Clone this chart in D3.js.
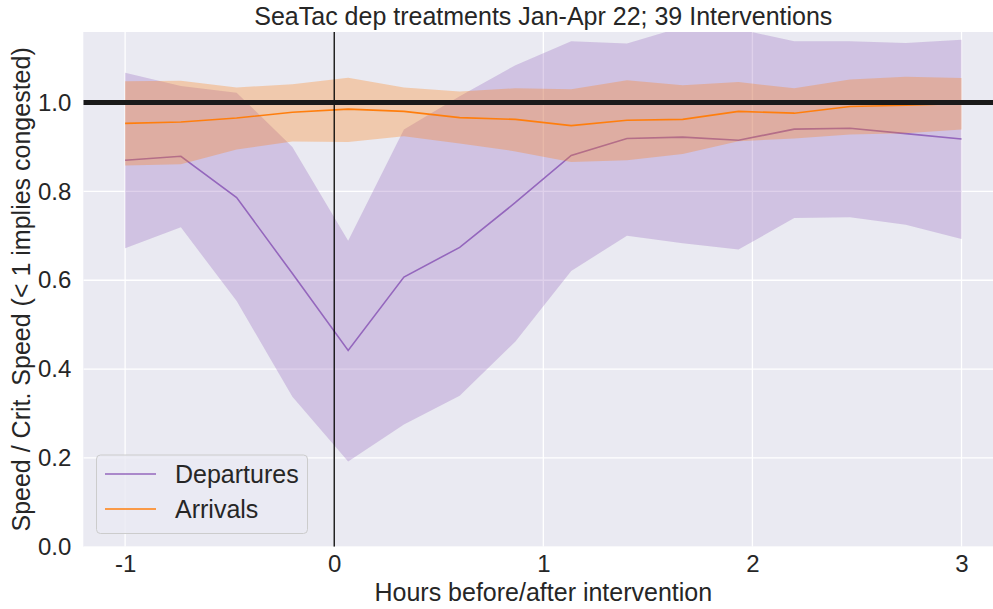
<!DOCTYPE html>
<html>
<head>
<meta charset="utf-8">
<script src="https://cdn.jsdelivr.net/npm/d3@7"></script>
<style>
  html, body { margin: 0; padding: 0; background: #ffffff; }
  svg { display: block; font-family: "Liberation Sans", Arial, sans-serif; }
</style>
</head>
<body>
<svg id="chart" width="993" height="609"></svg>
<script>
// ---- data ----
const minutes = [-60, -44, -28, -12, 4, 20, 36, 52, 68, 84, 100, 116, 132, 148, 164, 180];
const depMean  = [0.870, 0.879, 0.786, 0.615, 0.442, 0.607, 0.674, 0.775, 0.881, 0.919, 0.922, 0.915, 0.940, 0.942, 0.930, 0.918];
const depUpper = [1.067, 1.037, 1.022, 0.900, 0.689, 0.939, 1.014, 1.084, 1.138, 1.133, 1.170, 1.165, 1.138, 1.138, 1.134, 1.141];
const depLower = [0.672, 0.719, 0.553, 0.338, 0.192, 0.275, 0.340, 0.462, 0.621, 0.700, 0.683, 0.669, 0.740, 0.742, 0.725, 0.693];
const arrMean  = [0.953, 0.956, 0.965, 0.978, 0.985, 0.980, 0.966, 0.962, 0.948, 0.960, 0.962, 0.980, 0.976, 0.991, 0.994, 0.998];
const arrUpper = [1.048, 1.049, 1.034, 1.041, 1.056, 1.034, 1.025, 1.032, 1.030, 1.050, 1.039, 1.046, 1.032, 1.052, 1.058, 1.055];
const arrLower = [0.858, 0.861, 0.894, 0.912, 0.911, 0.924, 0.908, 0.890, 0.866, 0.870, 0.884, 0.913, 0.919, 0.928, 0.931, 0.939];
const xTicks = [-1, 0, 1, 2, 3];
const xTickLabels = ["-1", "0", "1", "2", "3"];
const yTicks = [0.0, 0.2, 0.4, 0.6, 0.8, 1.0];
const yTickLabels = ["0.0", "0.2", "0.4", "0.6", "0.8", "1.0"];
const seriesNames = ["Departures", "Arrivals"];
const titleText = "SeaTac dep treatments Jan-Apr 22; 39 Interventions";
const xLabelText = "Hours before/after intervention";
const yLabelText = "Speed / Crit. Speed (< 1 implies congested)";
const refLine = 1.0;
const vLine = 0;

// ---- layout ----
const svg = d3.select("#chart");
const pLeft = 83.3, pTop = 32, pBottom = 546.8, pRight = 993;
const x = d3.scaleLinear().domain([-1.2, 3.2]).range([pLeft, pLeft + 4.4 * 209.1]);
const y = d3.scaleLinear().domain([0, 1.1587]).range([pBottom, pTop]);

const textColor = "#262626";
const purple = "#9467bd", orange = "#ff7f0e";
const fontFam = "Liberation Sans, Arial, sans-serif";

svg.append("defs").append("clipPath").attr("id", "clip")
  .append("rect").attr("x", pLeft).attr("y", pTop).attr("width", pRight - pLeft).attr("height", pBottom - pTop);

// background
svg.append("rect").attr("x", pLeft).attr("y", pTop).attr("width", pRight - pLeft).attr("height", pBottom - pTop)
  .attr("fill", "#eaeaf2");

// grid
const grid = svg.append("g").attr("clip-path", "url(#clip)");
grid.selectAll("line.gx").data(xTicks).join("line").attr("class", "gx")
  .attr("x1", d => x(d)).attr("x2", d => x(d)).attr("y1", pTop).attr("y2", pBottom)
  .attr("stroke", "#ffffff").attr("stroke-width", 1.3);
grid.selectAll("line.gy").data(yTicks).join("line").attr("class", "gy")
  .attr("x1", pLeft).attr("x2", pRight).attr("y1", d => y(d)).attr("y2", d => y(d))
  .attr("stroke", "#ffffff").attr("stroke-width", 1.3);

// data
const hours = minutes.map(m => m / 60);
const plot = svg.append("g").attr("clip-path", "url(#clip)");
const area = (lo, hi) => d3.area().x((d, i) => x(hours[i])).y0((d, i) => y(lo[i])).y1((d, i) => y(hi[i]));
const line = (vals) => d3.line().x((d, i) => x(hours[i])).y((d, i) => y(vals[i]));

plot.append("path").attr("d", line(depMean)(hours)).attr("fill", "none").attr("stroke", purple).attr("stroke-width", 1.6);
plot.append("path").attr("d", area(depLower, depUpper)(hours)).attr("fill", purple).attr("fill-opacity", 0.3);
plot.append("path").attr("d", line(arrMean)(hours)).attr("fill", "none").attr("stroke", orange).attr("stroke-width", 1.6);
plot.append("path").attr("d", area(arrLower, arrUpper)(hours)).attr("fill", orange).attr("fill-opacity", 0.3);

// reference lines
plot.append("line").attr("x1", x(vLine)).attr("x2", x(vLine)).attr("y1", pTop).attr("y2", pBottom)
  .attr("stroke", "#000000").attr("stroke-width", 1.3);
plot.append("line").attr("x1", pLeft).attr("x2", pRight).attr("y1", y(refLine)).attr("y2", y(refLine))
  .attr("stroke", "#1a1a1a").attr("stroke-width", 5);

// axes (labels only, seaborn darkgrid has no tick marks)
const xAxis = d3.axisBottom(x).tickValues(xTicks).tickSize(0).tickPadding(8)
  .tickFormat((d, i) => xTickLabels[i]);
const gx = svg.append("g").attr("transform", `translate(0,${pBottom})`).call(xAxis);
gx.select(".domain").remove();
gx.selectAll("text").attr("fill", textColor).attr("font-size", 24).attr("font-family", fontFam);

const yAxis = d3.axisLeft(y).tickValues(yTicks).tickSize(0).tickPadding(12)
  .tickFormat((d, i) => yTickLabels[i]);
const gy = svg.append("g").attr("transform", `translate(${pLeft},0)`).call(yAxis);
gy.select(".domain").remove();
gy.selectAll("text").attr("fill", textColor).attr("font-size", 24).attr("font-family", fontFam);

// title & axis labels
const cx = (x.range()[0] + x.range()[1]) / 2;
svg.append("text").attr("x", cx).attr("y", 25).attr("text-anchor", "middle")
  .attr("fill", textColor).attr("font-size", 25).text(titleText);
svg.append("text").attr("x", cx).attr("y", 601).attr("text-anchor", "middle")
  .attr("fill", textColor).attr("font-size", 25).text(xLabelText);
svg.append("text").attr("transform", `translate(30,${(pTop + pBottom) / 2}) rotate(-90)`).attr("text-anchor", "middle")
  .attr("fill", textColor).attr("font-size", 25).text(yLabelText);

// legend
const lg = svg.append("g");
lg.append("rect").attr("x", 96.5).attr("y", 455).attr("width", 211).attr("height", 78.5).attr("rx", 4)
  .attr("fill", "#eaeaf2").attr("fill-opacity", 0.8).attr("stroke", "#cccccc").attr("stroke-width", 1);
const legColors = [purple, orange];
const legY = [474, 509];
seriesNames.forEach((name, i) => {
  lg.append("line").attr("x1", 105).attr("x2", 156).attr("y1", legY[i]).attr("y2", legY[i])
    .attr("stroke", legColors[i]).attr("stroke-width", 1.6);
  lg.append("text").attr("x", 175).attr("y", legY[i] + 8.5)
    .attr("fill", textColor).attr("font-size", 25).text(name);
});
</script>
</body>
</html>
